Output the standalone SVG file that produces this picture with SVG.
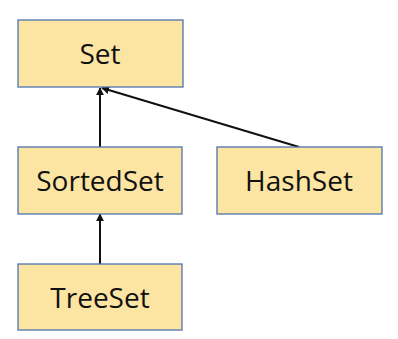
<svg xmlns="http://www.w3.org/2000/svg" width="398" height="339" viewBox="0 0 398 339">
<style>
.box{fill:#FCE5A2;stroke:#4F73B0;stroke-width:1.3}
.lbl{font-family:"Open Sans","Liberation Sans",sans-serif;font-size:28px;fill:#111;text-anchor:middle}
.edge{stroke:#111;stroke-width:2;fill:none;marker-end:url(#ah)}
</style>
<defs>
<marker id="ah" viewBox="0 0 10 10" refX="9" refY="5" markerWidth="4" markerHeight="4" orient="auto" markerUnits="strokeWidth">
<path d="M0,0 L10,5 L0,10 z" fill="#111"/>
</marker>
</defs>
<g id="connectors">
<line class="edge" x1="100" y1="147" x2="100" y2="88"/>
<line class="edge" x1="299" y1="147" x2="102" y2="88"/>
<line class="edge" x1="100" y1="264" x2="100" y2="214"/>
</g>
<g id="set"><rect class="box" x="18" y="20" width="165" height="67"/><text class="lbl" x="100" y="64">Set</text></g>
<g id="sortedset"><rect class="box" x="18" y="147" width="164" height="67"/><text class="lbl" x="100" y="191">SortedSet</text></g>
<g id="hashset"><rect class="box" x="217" y="147" width="165" height="67"/><text class="lbl" x="299" y="191">HashSet</text></g>
<g id="treeset"><rect class="box" x="18" y="264" width="164" height="66"/><text class="lbl" x="100" y="308">TreeSet</text></g>
</svg>
